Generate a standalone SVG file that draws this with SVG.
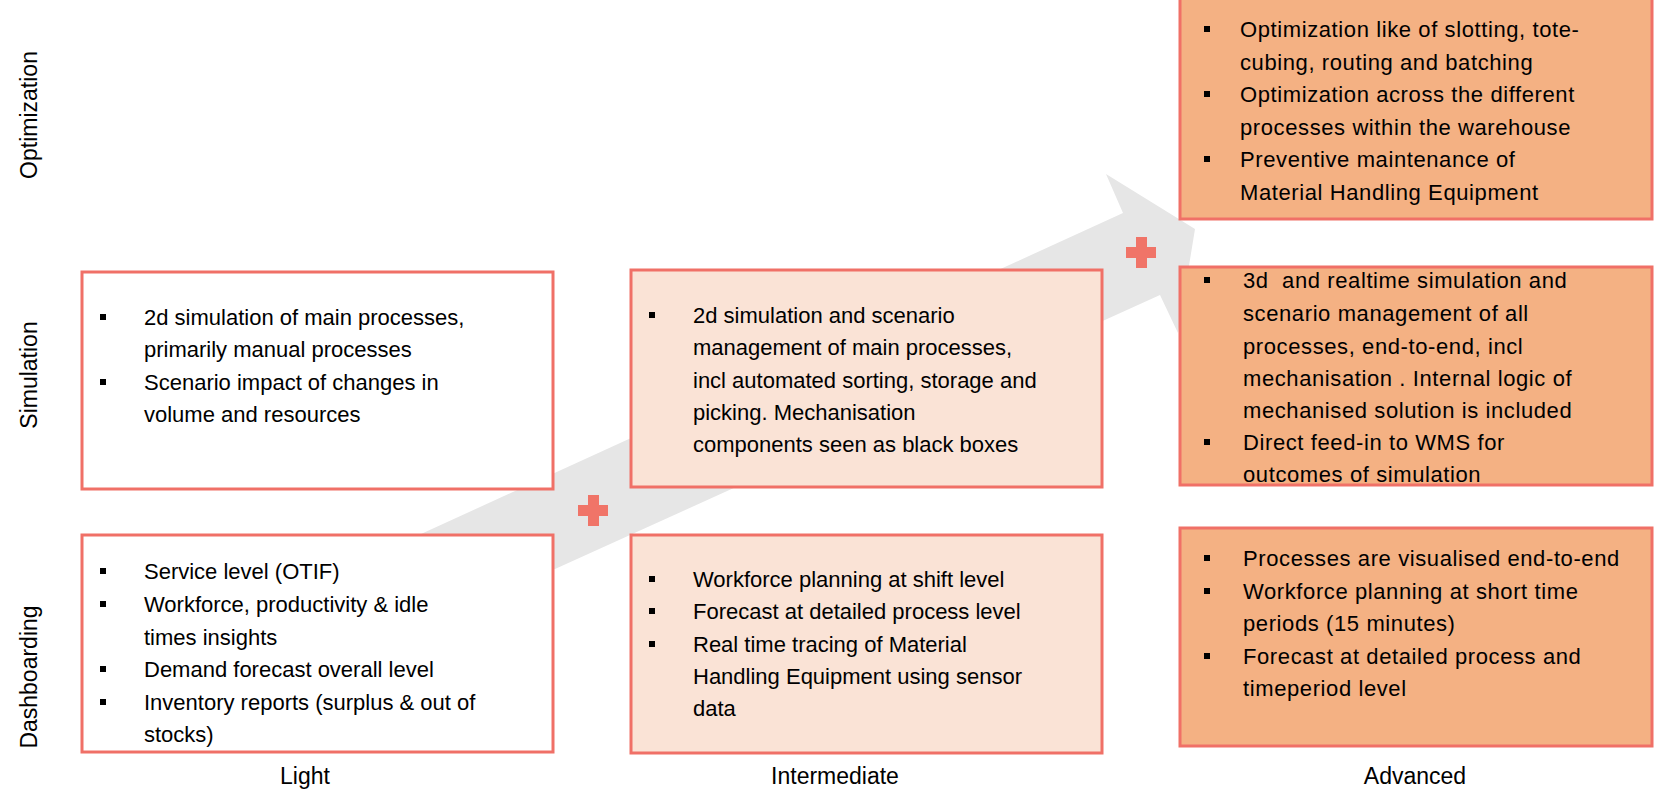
<svg xmlns="http://www.w3.org/2000/svg" width="1672" height="810" viewBox="0 0 1672 810">
<style>
.box{stroke:#F07067;stroke-width:3}
.l{fill:#fff}.m{fill:#FAE3D6}.a{fill:#F4B183}
text{font-family:"Liberation Sans",Arial,sans-serif;font-size:22px;fill:#000;white-space:pre}
.adv text{letter-spacing:0.6px}
.hdr{font-size:23px}
.b{fill:#000}
</style>
<defs>
<rect id="bul" x="-3" y="-3" width="6" height="6" class="b"/>
<g id="plus" fill="#F07468"><rect x="-15" y="-5" width="30" height="11"/><rect x="-5" y="-15" width="11" height="31"/></g>
</defs>
<g id="connectors">
<polygon points="421,534 1123,213 1106,174 1195,229 1178,333 1160,295 555,569" fill="#E6E6E6"/>
<use href="#plus" x="593" y="510"/>
<use href="#plus" x="1141" y="252"/>
</g>
<g id="row-labels" class="hdr">
<text class="hdr" transform="translate(37,115) rotate(-90)" text-anchor="middle">Optimization</text>
<text class="hdr" transform="translate(37,375) rotate(-90)" text-anchor="middle">Simulation</text>
<text class="hdr" transform="translate(37,677) rotate(-90)" text-anchor="middle">Dashboarding</text>
</g>
<g id="col-labels">
<text class="hdr" x="305" y="784" text-anchor="middle">Light</text>
<text class="hdr" x="835" y="784" text-anchor="middle">Intermediate</text>
<text class="hdr" x="1415" y="784" text-anchor="middle">Advanced</text>
</g>
<g id="light-sim">
<rect class="box l" x="82" y="272" width="471" height="217"/>
<use href="#bul" x="103" y="317"/><use href="#bul" x="103" y="382"/>
<text x="144" y="325">2d simulation of main processes,</text>
<text x="144" y="357">primarily manual processes</text>
<text x="144" y="390">Scenario impact of changes in</text>
<text x="144" y="422">volume and resources</text>
</g>
<g id="light-dash">
<rect class="box l" x="82" y="535" width="471" height="217"/>
<use href="#bul" x="103" y="571"/><use href="#bul" x="103" y="604"/><use href="#bul" x="103" y="669"/><use href="#bul" x="103" y="702"/>
<text x="144" y="579">Service level (OTIF)</text>
<text x="144" y="612">Workforce, productivity &amp; idle</text>
<text x="144" y="645">times insights</text>
<text x="144" y="677">Demand forecast overall level</text>
<text x="144" y="710">Inventory reports (surplus &amp; out of</text>
<text x="144" y="742">stocks)</text>
</g>
<g id="inter-sim">
<rect class="box m" x="631" y="270" width="471" height="217"/>
<use href="#bul" x="652" y="315"/>
<text x="693" y="323">2d simulation and scenario</text>
<text x="693" y="355">management of main processes,</text>
<text x="693" y="388">incl automated sorting, storage and</text>
<text x="693" y="420">picking. Mechanisation</text>
<text x="693" y="452">components seen as black boxes</text>
</g>
<g id="inter-dash">
<rect class="box m" x="631" y="535" width="471" height="218"/>
<use href="#bul" x="652" y="579"/><use href="#bul" x="652" y="611"/><use href="#bul" x="652" y="644"/>
<text x="693" y="587">Workforce planning at shift level</text>
<text x="693" y="619">Forecast at detailed process level</text>
<text x="693" y="652">Real time tracing of Material</text>
<text x="693" y="684">Handling Equipment using sensor</text>
<text x="693" y="716">data</text>
</g>
<g id="adv-opt" class="adv">
<rect class="box a" x="1180" y="-2" width="472" height="221"/>
<use href="#bul" x="1207" y="29"/><use href="#bul" x="1207" y="94"/><use href="#bul" x="1207" y="159"/>
<text x="1240" y="37">Optimization like of slotting, tote-</text>
<text x="1240" y="70">cubing, routing and batching</text>
<text x="1240" y="102">Optimization across the different</text>
<text x="1240" y="135">processes within the warehouse</text>
<text x="1240" y="167">Preventive maintenance of</text>
<text x="1240" y="200">Material Handling Equipment</text>
</g>
<g id="adv-sim" class="adv">
<rect class="box a" x="1180" y="267" width="472" height="218"/>
<use href="#bul" x="1207" y="280"/><use href="#bul" x="1207" y="442"/>
<text x="1243" y="288">3d  and realtime simulation and</text>
<text x="1243" y="321">scenario management of all</text>
<text x="1243" y="354">processes, end-to-end, incl</text>
<text x="1243" y="386">mechanisation . Internal logic of</text>
<text x="1243" y="418">mechanised solution is included</text>
<text x="1243" y="450">Direct feed-in to WMS for</text>
<text x="1243" y="482">outcomes of simulation</text>
</g>
<g id="adv-dash" class="adv">
<rect class="box a" x="1180" y="528" width="472" height="218"/>
<use href="#bul" x="1207" y="558"/><use href="#bul" x="1207" y="591"/><use href="#bul" x="1207" y="656"/>
<text x="1243" y="566">Processes are visualised end-to-end</text>
<text x="1243" y="599">Workforce planning at short time</text>
<text x="1243" y="631">periods (15 minutes)</text>
<text x="1243" y="664">Forecast at detailed process and</text>
<text x="1243" y="696">timeperiod level</text>
</g>
</svg>
